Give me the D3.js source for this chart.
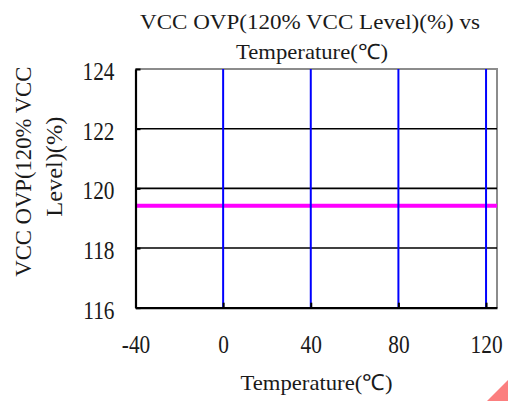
<!DOCTYPE html>
<html><head><meta charset="utf-8">
<script src="https://cdn.jsdelivr.net/npm/d3@7"></script>
<style>
html,body{margin:0;padding:0;background:#fff;}
svg{display:block;}
text{font-family:"Liberation Serif","Times New Roman",serif;fill:#1a1a1a;}
</style></head>
<body>
<svg id="chart" width="508" height="401"></svg>
<script>
// ---- data ----
const temperatures = [-40, -20, 0, 25, 50, 85, 100, 125];
const ovpLevel = [119.42, 119.42, 119.42, 119.42, 119.42, 119.42, 119.42, 119.42];
const xTicks = [-40, 0, 40, 80, 120];
const yTicks = [116, 118, 120, 122, 124];
const titleLines = ["VCC OVP(120% VCC Level)(%) vs", "Temperature(℃)"];
const yTitleLines = ["VCC OVP(120% VCC", "Level)(%)"];
const xTitle = "Temperature(℃)";

const svg = d3.select("#chart");
const pL = 135.5, pR = 497, pT = 69, pB = 307.7;
const x = d3.scaleLinear().domain([-40, 125]).range([pL, pR]);
const y = d3.scaleLinear().domain([116, 124]).range([pB, pT]);

function fit(sel, w) {
  sel.attr("textLength", w).attr("lengthAdjust", "spacingAndGlyphs");
}
function squeeze(sel, k) {
  sel.each(function () {
    const L = this.getComputedTextLength();
    d3.select(this).attr("textLength", L * k).attr("lengthAdjust", "spacingAndGlyphs");
  });
}

// corner decoration
svg.append("polygon")
  .attr("points", "487,401 508,380 508,401")
  .attr("fill", "#fb7f7f");

// frame top/right (gray)
svg.append("path")
  .attr("d", `M${pL},${pT}H${pR}V${pB}`)
  .attr("fill", "none").attr("stroke", "#8c8c8c").attr("stroke-width", 2);

// horizontal grid
svg.append("g").selectAll("line").data(yTicks.filter(d => d > 116 && d < 124)).join("line")
  .attr("x1", pL).attr("x2", pR)
  .attr("y1", d => y(d)).attr("y2", d => y(d))
  .attr("stroke", "#000").attr("stroke-width", 1.6);

// data line
const line = d3.line().x((d, i) => x(temperatures[i])).y(d => y(d));
svg.append("path")
  .datum(ovpLevel)
  .attr("d", line)
  .attr("fill", "none")
  .attr("stroke", "#ff00ff")
  .attr("stroke-width", 4);

// vertical grid
svg.append("g").selectAll("line").data(xTicks.filter(d => d > -40)).join("line")
  .attr("x1", d => x(d)).attr("x2", d => x(d))
  .attr("y1", pT).attr("y2", pB)
  .attr("stroke", "#0000ff").attr("stroke-width", 2);

// axes
const yAxis = svg.append("g")
  .attr("transform", `translate(${pL},0)`)
  .call(d3.axisLeft(y).tickValues(yTicks).tickSize(-5).tickPadding(21).tickSizeOuter(0).tickFormat(d => String(d)));
yAxis.select(".domain").attr("stroke", "#000").attr("stroke-width", 2.2);
yAxis.selectAll(".tick line").attr("stroke", "#000").attr("stroke-width", 2);
yAxis.selectAll(".tick text")
  .attr("dy", null).attr("y", 10.5)
  .style("font-size", "26px").style("font-family", "'Liberation Serif',serif").attr("fill", "#1a1a1a")
  .call(squeeze, 0.82);

const xAxis = svg.append("g")
  .attr("transform", `translate(0,${pB})`)
  .call(d3.axisBottom(x).tickValues(xTicks).tickSize(-5).tickSizeOuter(0).tickFormat(d => String(d)));
xAxis.select(".domain").attr("stroke", "#000").attr("stroke-width", 2.2);
xAxis.selectAll(".tick line").attr("stroke", "#000").attr("stroke-width", 2);
xAxis.selectAll(".tick text")
  .attr("dy", null).attr("y", 45.8)
  .style("font-size", "26px").style("font-family", "'Liberation Serif',serif").attr("fill", "#1a1a1a")
  .call(squeeze, 0.82);

// title
svg.append("text").attr("x", 310).attr("y", 28.5).attr("text-anchor", "middle")
  .style("font-size", "20px").text(titleLines[0]).call(fit, 340);
svg.append("text").attr("x", 312).attr("y", 58.5).attr("text-anchor", "middle")
  .style("font-size", "21px").text(titleLines[1]).call(fit, 152);

// x title
svg.append("text").attr("x", 316.5).attr("y", 390).attr("text-anchor", "middle")
  .style("font-size", "22px").text(xTitle).call(fit, 152);

// y title
svg.append("text").attr("transform", "translate(31,171.7) rotate(-90)").attr("text-anchor", "middle")
  .style("font-size", "23px").text(yTitleLines[0]).call(fit, 210);
svg.append("text").attr("transform", "translate(61.5,166.7) rotate(-90)").attr("text-anchor", "middle")
  .style("font-size", "23px").text(yTitleLines[1]).call(fit, 100);
</script>
</body></html>
